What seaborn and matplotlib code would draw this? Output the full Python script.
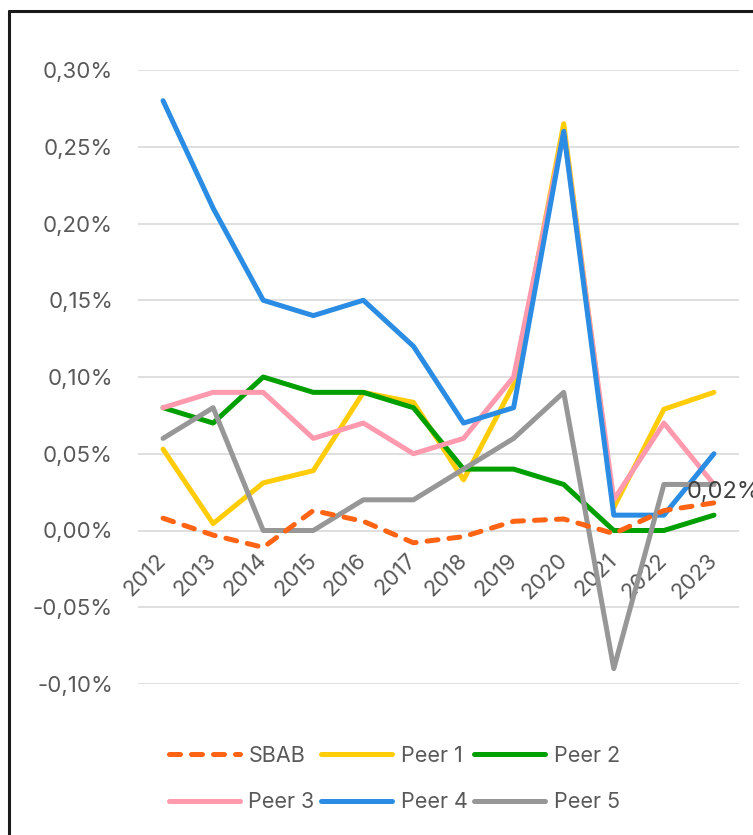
import matplotlib
matplotlib.use("Agg")
import matplotlib.pyplot as plt
from matplotlib.lines import Line2D
import seaborn as sns
import pandas as pd

years = [2012, 2013, 2014, 2015, 2016, 2017, 2018, 2019, 2020, 2021, 2022, 2023]
sbab = [0.008, -0.003, -0.011, 0.013, 0.006, -0.008, -0.004, 0.006, 0.0075, -0.002, 0.013, 0.018]
peer1 = [0.053, 0.0045, 0.031, 0.039, 0.090, 0.0835, 0.033, 0.095, 0.265, 0.015, 0.079, 0.090]
peer2 = [0.08, 0.07, 0.10, 0.09, 0.09, 0.08, 0.04, 0.04, 0.03, 0.00, 0.00, 0.01]
peer3 = [0.08, 0.09, 0.09, 0.06, 0.07, 0.05, 0.06, 0.10, 0.26, 0.02, 0.07, 0.03]
peer4 = [0.28, 0.21, 0.15, 0.14, 0.15, 0.12, 0.07, 0.08, 0.26, 0.01, 0.01, 0.05]
peer5 = [0.06, 0.08, 0.00, 0.00, 0.02, 0.02, 0.04, 0.06, 0.09, -0.09, 0.03, 0.03]
series_names = ["SBAB", "Peer 1", "Peer 2", "Peer 3", "Peer 4", "Peer 5"]
yticks = [-0.10, -0.05, 0.00, 0.05, 0.10, 0.15, 0.20, 0.25, 0.30]
last_label = "0,02%"

colors = {"SBAB": "#FF6414", "Peer 1": "#FFCC0A", "Peer 2": "#009F00",
          "Peer 3": "#FF9AAE", "Peer 4": "#2A8CE2", "Peer 5": "#979797"}

values = [sbab, peer1, peer2, peer3, peer4, peer5]
rows = []
for name, vals in zip(series_names, values):
    for y, v in zip(years, vals):
        rows.append({"year": y, "value": v, "series": name})
df = pd.DataFrame(rows)

sns.set_theme(style="white")
plt.rcParams["font.family"] = ["Inter", "DejaVu Sans"]
text_col = "#595959"

fig = plt.figure(figsize=(7.53, 8.35), dpi=100)
ax = fig.add_axes([138/753, 1-684/835, (739-138)/753, (684-70)/835])

draw_order = ["Peer 1", "Peer 2", "Peer 3", "Peer 4", "Peer 5", "SBAB"]
dash_map = {n: "" for n in series_names}
dash_map["SBAB"] = (2.2, 2.2)
lw = 3.6
sns.lineplot(data=df, x="year", y="value", hue="series", hue_order=draw_order,
             palette=colors, style="series", style_order=draw_order, dashes=dash_map,
             linewidth=lw, legend=False, ax=ax, zorder=3)
for ln in ax.lines:
    ln.set_solid_capstyle("round")
    ln.set_dash_capstyle("round")
    ln.set_solid_joinstyle("round")
    ln.set_dash_joinstyle("round")

ax.set_xlim(years[0] - 0.5, years[-1] + 0.5)
ax.set_ylim(-0.10, 0.30)
ax.set_yticks(yticks)
ax.set_yticklabels([("%.2f%%" % v).replace(".", ",") for v in yticks])
ax.set_xticks(years)
ax.set_xticklabels([str(y) for y in years])
ax.grid(axis="y", color="#D9D9D9", linewidth=1.2, zorder=0)
ax.grid(axis="x", visible=False)
for s in ax.spines.values():
    s.set_visible(False)
ax.spines["bottom"].set_position(("data", 0))
ax.tick_params(axis="y", length=0, pad=18, labelsize=16, labelcolor=text_col)
ax.tick_params(axis="x", length=0, pad=19, labelsize=16, labelcolor=text_col)
for lab in ax.get_xticklabels():
    lab.set_rotation(45)
    lab.set_ha("right")
    lab.set_va("center")
    lab.set_rotation_mode("anchor")
ax.set_xlabel("")
ax.set_ylabel("")

ax.annotate(last_label, xy=(years[-1], sbab[-1]), xytext=(-20, 8), textcoords="offset points",
            ha="left", va="center", fontsize=17, color="#404040", annotation_clip=False,
            zorder=5)

handles = {}
for n in series_names:
    if n == "SBAB":
        h = Line2D([], [], color=colors[n], lw=lw, dashes=(2.2, 2.2), dash_capstyle="round")
    else:
        h = Line2D([], [], color=colors[n], lw=lw, solid_capstyle="round")
    handles[n] = h
# column-major order so rows read SBAB, Peer 1, Peer 2 / Peer 3, Peer 4, Peer 5
leg_order = [series_names[i] for i in (0, 3, 1, 4, 2, 5)]
fig.legend([handles[n] for n in leg_order], leg_order, loc="center left",
           bbox_to_anchor=(158/753, 1-779/835),
           ncol=3, frameon=False, fontsize=15.5, handlelength=3.3, handletextpad=0.4,
           columnspacing=0.3, labelspacing=1.25, borderpad=0, labelcolor=text_col)

fig.add_artist(Line2D([9/753, 9/753], [-0.1, 1-11/835], color="#1A1A1A", lw=2.2,
                      transform=fig.transFigure))
fig.add_artist(Line2D([9/753, 1.1], [1-11/835, 1-11/835], color="#1A1A1A", lw=2.2,
                      transform=fig.transFigure))

fig.savefig("out.png", dpi=100)
